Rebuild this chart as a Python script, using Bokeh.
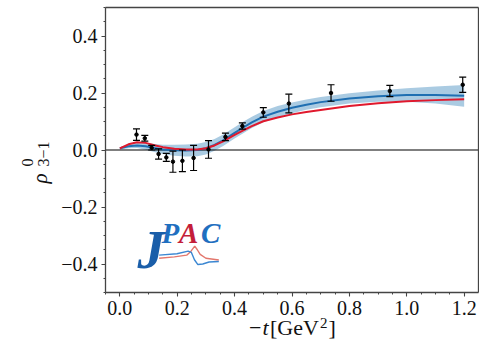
import math
import numpy as np
from bokeh.plotting import figure
from bokeh.models import (ColumnDataSource, Whisker, TeeHead, Label, LinearAxis,
                          SingleIntervalTicker, FixedTicker, CustomJSTickFormatter,
                          Range1d)
from bokeh.embed import file_html
from bokeh.resources import INLINE

# ---------------- data ----------------
t_data = [0.058, 0.087, 0.111, 0.135, 0.162, 0.185, 0.218, 0.257, 0.309,
          0.368, 0.427, 0.500, 0.589, 0.736, 0.941, 1.195]
rho_data = [0.054, 0.041, 0.008, -0.014, -0.026, -0.041, -0.038, -0.028, 0.002,
            0.046, 0.084, 0.132, 0.163, 0.200, 0.207, 0.229]
rho_err = [0.020, 0.010, 0.008, 0.018, 0.014, 0.037, 0.038, 0.044, 0.031,
           0.013, 0.011, 0.017, 0.033, 0.029, 0.020, 0.027]

t_curve = [0.00, 0.03, 0.06, 0.09, 0.12, 0.15, 0.19, 0.23, 0.27, 0.30, 0.33,
           0.36, 0.40, 0.43, 0.46, 0.50, 0.55, 0.60, 0.65, 0.70, 0.80, 0.90,
           1.00, 1.10, 1.20]
fit_blue = [0.006, 0.013, 0.016, 0.013, 0.007, 0.002, -0.001, -0.002, 0.000,
            0.006, 0.018, 0.034, 0.060, 0.079, 0.097, 0.117, 0.134, 0.148,
            0.159, 0.168, 0.181, 0.189, 0.193, 0.193, 0.190]
band_half = [0.004, 0.007, 0.009, 0.012, 0.014, 0.016, 0.019, 0.021, 0.022,
             0.022, 0.021, 0.020, 0.020, 0.020, 0.020, 0.020, 0.020, 0.019,
             0.018, 0.018, 0.018, 0.020, 0.024, 0.030, 0.038]
model_red = [0.006, 0.020, 0.027, 0.025, 0.017, 0.010, 0.004, 0.002, 0.002,
             0.006, 0.016, 0.030, 0.053, 0.069, 0.084, 0.101, 0.114, 0.125,
             0.133, 0.140, 0.154, 0.164, 0.171, 0.175, 0.178]

# JPAC logo line shapes (data units)
logo_red_x = [0.137, 0.190, 0.233, 0.248, 0.261, 0.270, 0.280, 0.300, 0.345]
logo_red_y = [-0.380, -0.375, -0.369, -0.355, -0.337, -0.350, -0.366, -0.380, -0.386]
logo_blue_x = [0.137, 0.199, 0.238, 0.249, 0.260, 0.272, 0.289, 0.311, 0.345]
logo_blue_y = [-0.369, -0.364, -0.355, -0.359, -0.385, -0.402, -0.400, -0.393, -0.391]

# ---------------- layout ----------------
X0, X1 = -0.05, 1.25          # visible axis box
Y0, Y1 = -0.5, 0.5
W, H = 479, 342
BOX_L, BOX_R, BOX_T, BOX_B = 105, 478, 7, 292   # pixel position of the axis box

kx = (BOX_R - BOX_L) / (X1 - X0)
ky = (BOX_B - BOX_T) / (Y1 - Y0)
XS, XE = X0 - BOX_L / kx, X1 + (W - BOX_R) / kx
YE, YS = Y1 + BOX_T / ky, Y0 - (H - BOX_B) / ky

BASE_SHIFT = 0.3   # measured offset of the drawn baseline, in em


def px2x(px):
    return XS + px / W * (XE - XS)


def py2y(py):
    return YE - py / H * (YE - YS)


p = figure(width=W, height=H, x_range=Range1d(XS, XE), y_range=Range1d(YS, YE),
           output_backend="svg", toolbar_location=None,
           min_border_left=0, min_border_right=0,
           min_border_top=0, min_border_bottom=0)
p.background_fill_color = "white"
p.border_fill_color = "white"
p.outline_line_color = None
p.xgrid.visible = False
p.ygrid.visible = False

fmt = CustomJSTickFormatter(code="""
if (Math.abs(tick) < 1e-9) { return "0.0"; }
const s = Math.abs(tick).toFixed(1);
return (tick < 0 ? "\\u2212" : "") + s;
""")
frame_col = "#444444"

xa = p.xaxis[0]
ya = p.yaxis[0]
xa.ticker = SingleIntervalTicker(interval=0.2, num_minor_ticks=4)
ya.ticker = SingleIntervalTicker(interval=0.2, num_minor_ticks=4)
xa.fixed_location = Y0
ya.fixed_location = X0
xa.bounds = (X0, X1)
ya.bounds = (Y0, Y1)
for ax in (xa, ya):
    ax.formatter = fmt
    ax.axis_line_color = frame_col
    ax.axis_line_width = 1.3
    ax.major_tick_line_color = frame_col
    ax.minor_tick_line_color = frame_col
    ax.major_tick_line_width = 1.1
    ax.minor_tick_line_width = 1.0
    ax.major_tick_in = 0
    ax.major_tick_out = 4
    ax.minor_tick_in = 0
    ax.minor_tick_out = 2
    ax.major_label_text_font = "Liberation Serif"
    ax.major_label_text_font_size = "20px"
    ax.major_label_text_color = "#111111"
    ax.major_label_standoff = 4

# top and right edges of the box: tick-less axes
for side, loc, bnds in (("above", Y1, (X0, X1)), ("right", X1, (Y0, Y1))):
    ax = LinearAxis(fixed_location=loc, bounds=bnds, ticker=FixedTicker(ticks=[]),
                    axis_line_color=frame_col, axis_line_width=1.3,
                    major_tick_line_color=None, minor_tick_line_color=None,
                    major_label_text_font_size="0px")
    p.add_layout(ax, side)

# ---------------- band, zero line and curves ----------------
tc = np.array(t_curve)
fb = np.array(fit_blue)
bh = np.array(band_half)
p.varea(x=tc, y1=fb - bh, y2=fb + bh, fill_color="#1f77b4", fill_alpha=0.38)
p.segment(x0=[X0], y0=[0.0], x1=[X1], y1=[0.0], line_color="black", line_width=1.2)
p.line(tc, fb, line_color="#1f6fb2", line_width=2)
p.line(t_curve, model_red, line_color="#e0192d", line_width=2)

# ---------------- data points ----------------
src = ColumnDataSource(dict(
    x=t_data, y=rho_data,
    lower=[v - e for v, e in zip(rho_data, rho_err)],
    upper=[v + e for v, e in zip(rho_data, rho_err)],
))
wh = Whisker(source=src, base="x", lower="lower", upper="upper",
             dimension="height", line_color="black", line_width=1.2,
             level="overlay",
             upper_head=TeeHead(size=7, line_color="black", line_width=1.2),
             lower_head=TeeHead(size=7, line_color="black", line_width=1.2))
p.add_layout(wh)
p.scatter("x", "y", source=src, size=3.5, color="black")


# ---------------- text helper (pixel placement of a baseline) ----------------
def px_label(px, py, text, size, style="normal", angle=0.0, color="#111111",
             font="Liberation Serif"):
    shift = BASE_SHIFT * size
    if angle:
        px = px - shift
    else:
        py = py - shift
    p.add_layout(Label(x=px2x(px), y=py2y(py), text=text, angle=angle,
                       text_font=font, text_font_style=style,
                       text_font_size=f"{size}px", text_color=color,
                       text_align="left", text_baseline="alphabetic"))


# ---------------- JPAC logo ----------------
p.line(logo_red_x, logo_red_y, line_color="#e3776d", line_width=1.4)
p.line(logo_blue_x, logo_blue_y, line_color="#3b87d2", line_width=1.4)
px_label(137, 265, "J", 55, "bold italic", color="#1a5ea9")
px_label(161, 241, "P", 29, "bold italic", color="#1f6fc0")
px_label(178.5, 241, "A", 29, "bold italic", color="#c41e3a")
px_label(200.5, 241, "C", 29, "bold italic", color="#1f6fc0")

# ---------------- axis titles (composed) ----------------
rot = math.pi / 2
px_label(46, 183, "ρ", 21, "italic", rot)
px_label(32, 166, "0", 16, angle=rot)
px_label(48, 166, "3−1", 16, angle=rot)

px_label(248.6, 334, "−", 22)
px_label(262, 334, "t", 22, "italic")
px_label(269.5, 334, "[GeV", 22)
px_label(319.5, 327, "2", 15)
px_label(328, 334, "]", 22)

open("out.html", "w", encoding="utf-8").write(file_html(p, INLINE))
